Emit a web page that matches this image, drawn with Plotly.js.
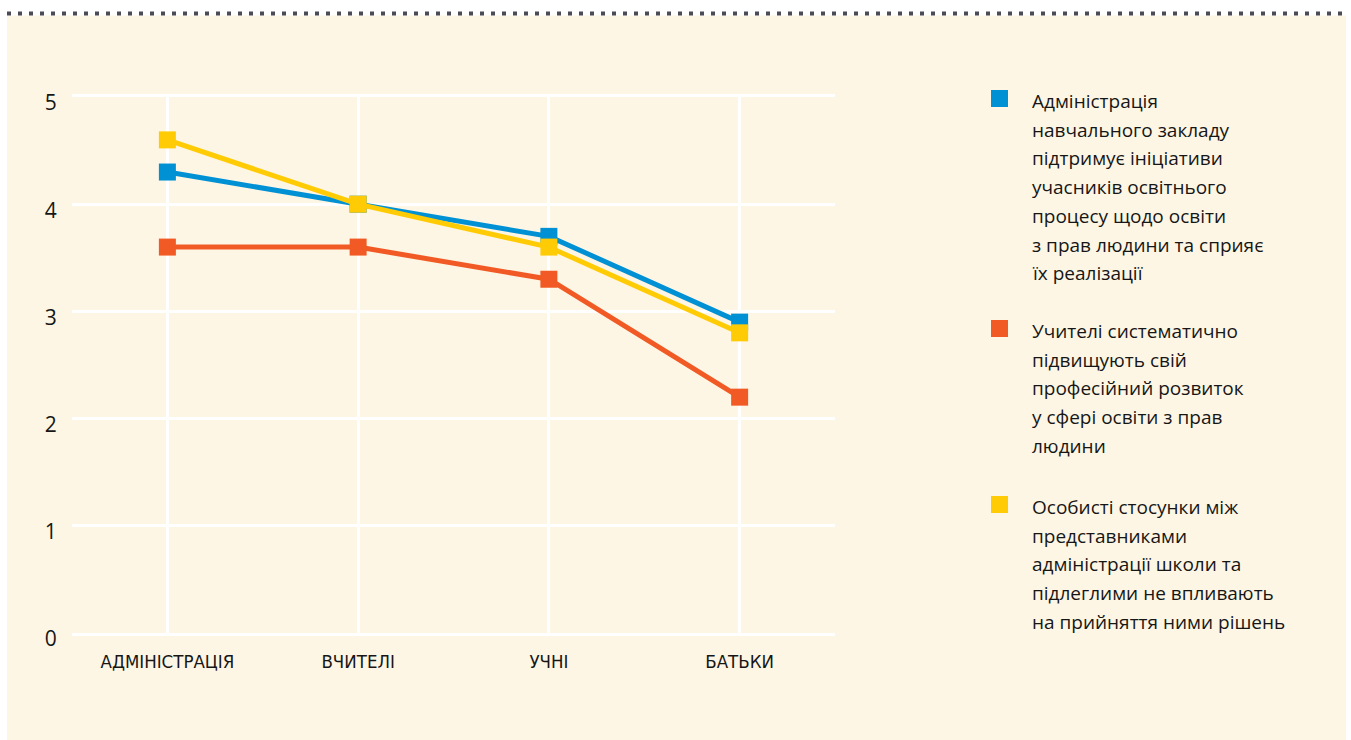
<!DOCTYPE html>
<html>
<head>
<meta charset="utf-8">
<script src="https://cdn.plot.ly/plotly-3.0.1.min.js"></script>
<style>
  html, body { margin: 0; padding: 0; background: #ffffff; }
  #chart { width: 1351px; height: 740px; }
</style>
</head>
<body>
<div id="chart"></div>
<script>
// ---- data ----
const categories = ['АДМІНІСТРАЦІЯ', 'ВЧИТЕЛІ', 'УЧНІ', 'БАТЬКИ'];
const adminSupport = [4.3, 4.0, 3.7, 2.9];
const teachersDevelopment = [3.6, 3.6, 3.3, 2.2];
const personalRelations = [4.6, 4.0, 3.6, 2.8];
const yTicks = [0, 1, 2, 3, 4, 5];

const legendAdmin = ['Адміністрація', 'навчального закладу', 'підтримує ініціативи', 'учасників освітнього', 'процесу щодо освіти', 'з прав людини та сприяє', 'їх реалізації'];
const legendTeachers = ['Учителі систематично', 'підвищують свій', 'професійний розвиток', 'у сфері освіти з прав', 'людини'];
const legendRelations = ['Особисті стосунки між', 'представниками', 'адміністрації школи та', 'підлеглими не впливають', 'на прийняття ними рішень'];

// ---- layout geometry (pixels) ----
const W = 1351, H = 740;
const M = { l: 72, r: 1351 - 835, t: 97, b: 740 - 633 };
const PW = W - M.l - M.r, PH = H - M.t - M.b;
const px = p => (p - M.l) / PW;
const py = p => (H - M.b - p) / PH;

const colors = { blue: '#0091d5', orange: '#f15a24', yellow: '#ffcb05' };

function lineTrace(values, color, name) {
  return {
    x: categories, y: values, name: name, type: 'scatter', mode: 'lines+markers',
    line: { color: color, width: 5 },
    marker: { color: color, size: 17, symbol: 'square', line: { width: 0 } },
    hoverinfo: 'skip', showlegend: false, cliponaxis: false
  };
}

const data = [
  lineTrace(adminSupport, colors.blue, legendAdmin.join(' ')),
  lineTrace(teachersDevelopment, colors.orange, legendTeachers.join(' ')),
  lineTrace(personalRelations, colors.yellow, legendRelations.join(' '))
];

const shapes = [
  { type: 'rect', xref: 'paper', yref: 'paper', layer: 'below',
    x0: px(7), x1: px(1346), y0: py(745), y1: py(15.5),
    fillcolor: '#fef6e5', line: { width: 0 } },
  { type: 'line', xref: 'paper', yref: 'paper',
    x0: px(7), x1: px(1347), y0: py(13.5), y1: py(13.5),
    line: { color: '#4b4b57', width: 4, dash: '4px,7px' } }
];
const annotations = [];

const legendGroups = [
  { lines: legendAdmin, color: colors.blue, first: 101 },
  { lines: legendTeachers, color: colors.orange, first: 331 },
  { lines: legendRelations, color: colors.yellow, first: 507 }
];
const lineStep = 28.7;
legendGroups.forEach(g => {
  shapes.push({ type: 'rect', xref: 'paper', yref: 'paper',
    x0: px(991), x1: px(1008), y0: py(g.first + 6), y1: py(g.first - 11),
    fillcolor: g.color, line: { width: 0 } });
  g.lines.forEach((t, i) => {
    annotations.push({ xref: 'paper', yref: 'paper', x: px(1030), y: py(g.first + i * lineStep),
      xanchor: 'left', yanchor: 'middle', text: t, showarrow: false,
      font: { family: 'Open Sans, sans-serif', size: 19, color: '#161616' } });
  });
});

const layout = {
  width: W, height: H,
  margin: M,
  paper_bgcolor: '#ffffff',
  plot_bgcolor: 'rgba(0,0,0,0)',
  showlegend: false,
  xaxis: {
    type: 'category', range: [-0.5, 3.5],
    showgrid: true, gridcolor: '#ffffff', gridwidth: 3,
    showline: true, linecolor: '#ffffff', linewidth: 3, mirror: true,
    zeroline: false,
    ticks: 'outside', ticklen: 10, tickcolor: 'rgba(0,0,0,0)',
    tickfont: { family: 'Liberation Sans Narrow, DejaVu Sans Condensed, sans-serif', size: 18.5, color: '#161616' },
    fixedrange: true
  },
  yaxis: {
    range: [0, 5], tickvals: yTicks, ticktext: yTicks.map(String),
    showgrid: true, gridcolor: '#ffffff', gridwidth: 3,
    zeroline: false, showline: false,
    ticks: 'outside', ticklen: 10, tickcolor: 'rgba(0,0,0,0)',
    ticklabelshift: 6,
    tickfont: { family: 'Open Sans, sans-serif', size: 21, color: '#161616' },
    fixedrange: true
  },
  shapes: shapes,
  annotations: annotations,
  hovermode: false
};

Plotly.newPlot('chart', data, layout, { displayModeBar: false, staticPlot: true });
</script>
</body>
</html>
